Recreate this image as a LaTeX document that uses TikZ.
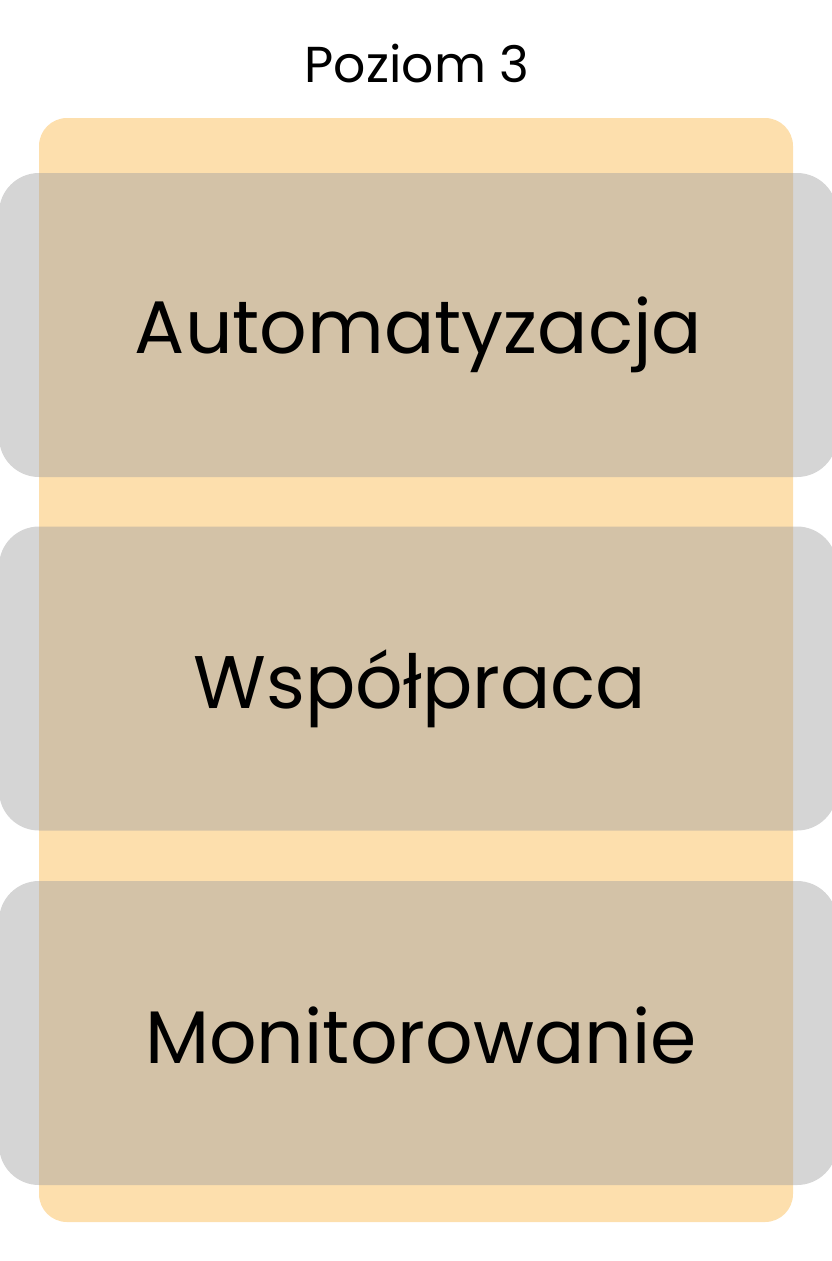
\documentclass[tikz,border=0pt]{standalone}
\usepackage{fontspec}
\setmainfont{Poppins}
\usetikzlibrary{positioning}

\definecolor{peach}{RGB}{253,223,173}
\definecolor{shade}{RGB}{159,159,160}

\tikzset{
  panel/.style={fill=peach, rounded corners=28pt, minimum width=754pt,
    minimum height=1104pt, inner sep=0pt},
  slot/.style={fill=shade, fill opacity=0.44, rounded corners=40pt,
    minimum width=838pt, minimum height=304pt, inner sep=0pt},
  caption/.style={anchor=base, inner sep=0pt,
    font=\fontsize{74.5}{80}\selectfont},
  heading/.style={anchor=base, inner sep=0pt,
    font=\fontsize{50.5}{56}\selectfont}
}

\begin{document}
\begin{tikzpicture}[x=1pt,y=-1pt]
  \useasboundingbox (0,0) rectangle (832,1261);

  \node[heading] (level) at (417,82) {Poziom 3};

  \node[panel] (board) at (416,670) {};

  % three rows over the panel
  \node[slot] (auto)    at (418,325)   {};
  \node[slot] (collab)  at (418,678.5) {};
  \node[slot] (monitor) at (418,1033)  {};

  \node[caption] (autotext)    at (418.5,353) {Automatyzacja};
  \node[caption] (collabtext)  at (420,708)   {Współpraca};
  \node[caption] (monitortext) at (421,1063)  {Monitorowanie};
\end{tikzpicture}
\end{document}
